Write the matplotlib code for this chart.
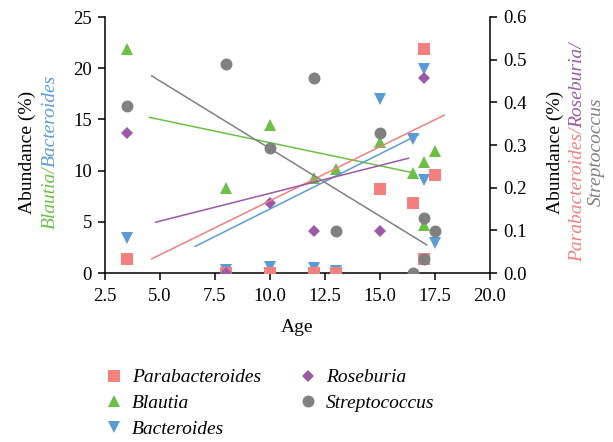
import matplotlib
matplotlib.use("Agg")
import matplotlib.pyplot as plt
from matplotlib.lines import Line2D

plt.rcParams['font.family'] = ['Liberation Serif', 'DejaVu Serif']

# ---- data (x = age) ----
ages = [3.5, 8, 10, 12, 13, 15, 16.5, 17, 17, 17.5]
blautia = [21.9, 8.3, 14.45, 9.25, 10.15, 12.8, 9.8, 10.8, 4.65, 11.9]
bacteroides = [3.4, 0.3, 0.55, 0.5, 0.15, 17.0, 13.05, 19.9, 9.1, 2.9]
parabacteroides = [0.033, 0.0, 0.0, 0.0, 0.0, 0.196, 0.164, 0.524, 0.033, 0.23]

roseburia_age = [3.5, 8, 10, 12, 15, 17]
roseburia = [0.327, 0.0, 0.164, 0.099, 0.099, 0.458]

strep_age = [3.5, 8, 10, 12, 13, 15, 16.5, 17, 17, 17.5]
streptococcus = [0.391, 0.491, 0.294, 0.457, 0.099, 0.327, 0.0, 0.130, 0.033, 0.099]

# trend line end points (x, y)
blautia_trend_x = [4.52, 16.48]
blautia_trend_y = [15.2, 9.8]
bacteroides_trend_x = [6.6, 16.74]
bacteroides_trend_y = [2.6, 13.5]
para_trend_x = [4.62, 17.92]
para_trend_y = [0.033, 0.370]
rose_trend_x = [4.8, 16.3]
rose_trend_y = [0.119, 0.269]
strep_trend_x = [4.62, 17.12]
strep_trend_y = [0.462, 0.066]

x_ticks = [2.5, 5.0, 7.5, 10.0, 12.5, 15.0, 17.5, 20.0]
left_ticks = [0, 5, 10, 15, 20, 25]
right_ticks = [0.0, 0.1, 0.2, 0.3, 0.4, 0.5, 0.6]

C_RED = '#F47F7F'
C_GREEN = '#6BBF45'
C_BLUE = '#5B9BD5'
C_PURPLE = '#9B59A6'
C_GREY = '#808080'

FS = 13.5
LFS = 14

fig = plt.figure(figsize=(6.13, 4.42), dpi=100)
W, H = 613, 442
ax = fig.add_axes([105 / W, 1 - 273 / H, 385 / W, 256 / H])
ax2 = ax.twinx()

ax.set_xlim(2.5, 20)
ax.set_ylim(0, 25)
ax2.set_ylim(0, 0.6)

# left-axis series
ax.plot(ages, blautia, linestyle='none', marker='^', ms=8.6, color=C_GREEN, mew=0)
ax.plot(ages, bacteroides, linestyle='none', marker='v', ms=8.6, color=C_BLUE, mew=0)
ax.plot(blautia_trend_x, blautia_trend_y, color=C_GREEN, lw=1.1)
ax.plot(bacteroides_trend_x, bacteroides_trend_y, color=C_BLUE, lw=1.1)

# right-axis series
ax2.plot(ages, parabacteroides, linestyle='none', marker='s', ms=8, color=C_RED, mew=0)
ax2.plot(roseburia_age, roseburia, linestyle='none', marker='D', ms=5.8, color=C_PURPLE, mew=0)
ax2.plot(strep_age, streptococcus, linestyle='none', marker='o', ms=8.6, color=C_GREY, mew=0)
ax2.plot(para_trend_x, para_trend_y, color=C_RED, lw=1.1)
ax2.plot(rose_trend_x, rose_trend_y, color=C_PURPLE, lw=1.1)
ax2.plot(strep_trend_x, strep_trend_y, color=C_GREY, lw=1.1)

for a in (ax, ax2):
    a.spines['top'].set_visible(False)
    for s in ('left', 'right', 'bottom'):
        a.spines[s].set_linewidth(1.1)
    a.tick_params(direction='out', length=5, width=1.1, labelsize=FS, pad=4.5)
ax.tick_params(axis='x', pad=6)

ax.set_xticks(x_ticks)
ax.set_xticklabels([f'{v:.1f}' for v in x_ticks])
ax.set_yticks(left_ticks)
ax.set_yticklabels([str(v) for v in left_ticks])
ax2.set_yticks(right_ticks)
ax2.set_yticklabels([f'{v:.1f}' for v in right_ticks])
ax.spines['right'].set_visible(False)
ax2.spines['left'].set_visible(False)
ax2.spines['bottom'].set_visible(False)

ax.set_xlabel('Age', fontsize=LFS, labelpad=10)

# multi-coloured rotated axis labels
fig.canvas.draw()
renderer = fig.canvas.get_renderer()


def rotated_line(x_px, yc_px, pieces):
    widths = []
    for s, c, st in pieces:
        t = fig.text(0, 0, s, fontsize=LFS, style=st)
        bb = t.get_window_extent(renderer)
        widths.append(bb.width)
        t.remove()
    total = sum(widths)
    y = yc_px - total / 2
    for (s, c, st), w in zip(pieces, widths):
        fig.text(x_px / W, y / H, s, fontsize=LFS, style=st, color=c,
                 rotation=90, rotation_mode='anchor', ha='left', va='baseline')
        y += w


yc = H - 152
rotated_line(32, yc, [('Abundance (%)', 'black', 'normal')])
rotated_line(55, yc, [('Blautia/', C_GREEN, 'italic'), ('Bacteroides', C_BLUE, 'italic')])
rotated_line(560, yc, [('Abundance (%)', 'black', 'normal')])
rotated_line(582, yc, [('Parabacteroides/', C_RED, 'italic'), ('Roseburia/', C_PURPLE, 'italic')])
rotated_line(601, yc, [('Streptococcus', C_GREY, 'italic')])

# legend
handles = [
    Line2D([], [], linestyle='none', marker='s', ms=8, color=C_RED, mew=0),
    Line2D([], [], linestyle='none', marker='^', ms=8.6, color=C_GREEN, mew=0),
    Line2D([], [], linestyle='none', marker='v', ms=8.6, color=C_BLUE, mew=0),
    Line2D([], [], linestyle='none', marker='D', ms=5.8, color=C_PURPLE, mew=0),
    Line2D([], [], linestyle='none', marker='o', ms=8.6, color=C_GREY, mew=0),
]
labels = ['Parabacteroides', 'Blautia', 'Bacteroides', 'Roseburia', 'Streptococcus']
leg = fig.legend(handles, labels, loc='upper left', bbox_to_anchor=(96 / W, 1 - 361 / H),
                 ncol=2, frameon=False, prop={'size': LFS, 'style': 'italic'},
                 handlelength=1.0, handletextpad=0.45, columnspacing=1.9,
                 labelspacing=0.42, borderaxespad=0, borderpad=0.4)

fig.savefig('out.png', dpi=100)
